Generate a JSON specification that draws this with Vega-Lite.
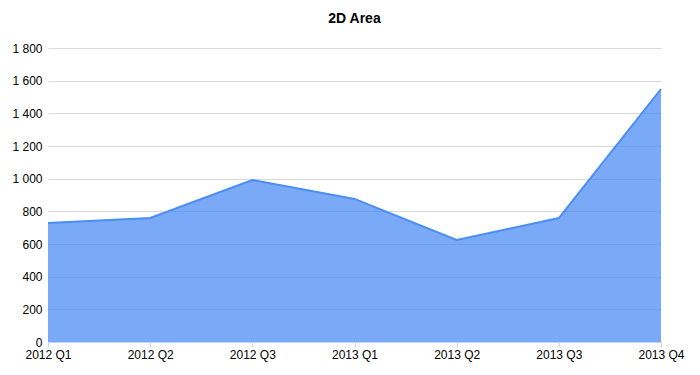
{
  "$schema": "https://vega.github.io/schema/vega-lite/v6.json",
  "autosize": "none",
  "width": 613,
  "height": 294,
  "padding": {"left": 48, "top": 48, "right": 39, "bottom": 33},
  "background": "white",
  "title": {"text": "2D Area", "font": "Liberation Sans", "fontSize": 14, "fontWeight": "bold", "color": "#000000", "offset": 16},
  "data": {"values": [
    {"period": "2012 Q1", "value": 729},
    {"period": "2012 Q2", "value": 759},
    {"period": "2012 Q3", "value": 992},
    {"period": "2013 Q1", "value": 876},
    {"period": "2013 Q2", "value": 625},
    {"period": "2013 Q3", "value": 759},
    {"period": "2013 Q4", "value": 1549}
  ]},
  "mark": {"type": "area", "color": "#4285f4", "fillOpacity": 0.7, "line": {"color": "#4a8ef2", "strokeWidth": 2}},
  "encoding": {
    "x": {"field": "period", "type": "ordinal", "sort": null,
      "scale": {"type": "point", "padding": 0},
      "axis": {"title": null, "labelAngle": 0, "grid": false, "domainColor": "#c5d3e8", "tickColor": "#c5d3e8", "tickSize": 5, "labelPadding": 2, "labelFont": "Liberation Sans", "labelFontSize": 12, "labelColor": "#000000"}},
    "y": {"field": "value", "type": "quantitative",
      "scale": {"domain": [0, 1800], "nice": false},
      "axis": {"title": null, "values": [0, 200, 400, 600, 800, 1000, 1200, 1400, 1600, 1800], "domain": false, "ticks": false, "gridColor": "#d9d9d9", "labelPadding": 6, "labelFont": "Liberation Sans", "labelFontSize": 12, "labelColor": "#000000", "labelExpr": "replace(format(datum.value, ','), ',', ' ')"}}
  },
  "config": {"view": {"stroke": null}}
}
